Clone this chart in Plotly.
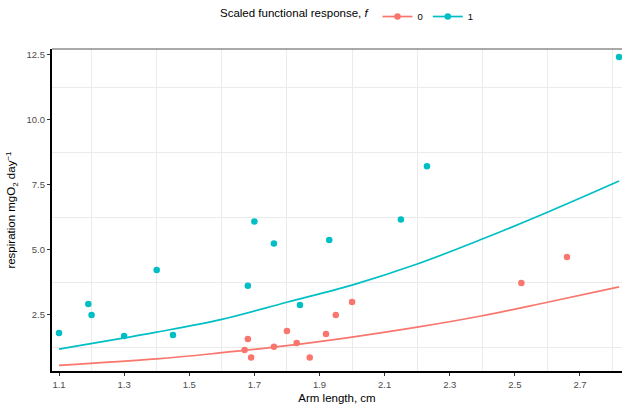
import plotly.graph_objects as go

# ---- data ----
f0_arm = [1.67, 1.68, 1.69, 1.76, 1.80, 1.83, 1.87, 1.92, 1.95, 2.00, 2.52, 2.66]
f0_resp = [1.15, 1.58, 0.87, 1.28, 1.88, 1.42, 0.87, 1.77, 2.50, 3.00, 3.73, 4.73]

f1_arm = [1.10, 1.19, 1.20, 1.30, 1.40, 1.45, 1.68, 1.70, 1.76, 1.84, 1.93, 2.15, 2.23, 2.82]
f1_resp = [1.81, 2.92, 2.50, 1.69, 4.23, 1.73, 3.62, 6.10, 5.25, 2.88, 5.38, 6.17, 8.22, 12.42]

fit_arm = [1.10, 1.40, 1.60, 1.80, 2.00, 2.20, 2.40, 2.60, 2.82]
fit0 = [0.565, 0.81, 1.05, 1.32, 1.65, 2.03, 2.47, 2.99, 3.58]
fit1 = [1.19, 1.84, 2.33, 2.99, 3.65, 4.46, 5.42, 6.45, 7.65]

x_ticks = [1.1, 1.3, 1.5, 1.7, 1.9, 2.1, 2.3, 2.5, 2.7]
x_minor = [1.2, 1.4, 1.6, 1.8, 2.0, 2.2, 2.4, 2.6, 2.8]
y_ticks = [2.5, 5.0, 7.5, 10.0, 12.5]
y_minor = [1.25, 3.75, 6.25, 8.75, 11.25]

groups = ["0", "1"]
colors = {"0": "#F8766D", "1": "#00BFC4"}

fig = go.Figure()
for g, xs, ys, fy in [("0", f0_arm, f0_resp, fit0), ("1", f1_arm, f1_resp, fit1)]:
    fig.add_trace(go.Scatter(
        x=fit_arm, y=fy, mode="lines", line=dict(color=colors[g], width=1.7, shape="spline"),
        showlegend=False, hoverinfo="skip"))
    fig.add_trace(go.Scatter(
        x=xs, y=ys, mode="markers", name=g,
        marker=dict(color=colors[g], size=6.5),
        showlegend=False))

# legend entries with line+marker symbol
for g in groups:
    fig.add_trace(go.Scatter(
        x=[None], y=[None], mode="lines+markers", name=g,
        line=dict(color=colors[g], width=1.7),
        marker=dict(color=colors[g], size=6.5), showlegend=True))

font_family = "Liberation Sans, Arial, sans-serif"

fig.update_layout(
    width=622, height=404,
    margin=dict(l=52, r=0, t=49, b=33),
    paper_bgcolor="white", plot_bgcolor="white",
    font=dict(family=font_family, color="black"),
    legend=dict(
        orientation="h", x=(218 - 52) / 570, xanchor="left", y=0.995, yanchor="top",
        yref="container",
        title=dict(text="Scaled functional response, <i>f</i>", font=dict(size=11.5), side="left"),
        font=dict(size=9.5), itemwidth=30, bgcolor="rgba(0,0,0,0)",
    ),
    xaxis=dict(
        range=[1.0785, 2.829], tickvals=x_ticks, ticktext=[f"{v:.1f}" for v in x_ticks],
        showgrid=False, zeroline=False,
        showline=True, linecolor="black", linewidth=2.2,
        ticks="outside", ticklen=3, tickcolor="#333333", tickwidth=1,
        tickfont=dict(size=9.5, color="#4d4d4d"),
        minor=dict(tickvals=x_minor, showgrid=True, gridcolor="#ebebeb", gridwidth=1, ticks=""),
        title=dict(text="Arm length, cm", font=dict(size=11.5), standoff=6),
    ),
    yaxis=dict(
        range=[0.346, 12.73], tickvals=y_ticks, ticktext=[f"{v:.1f}" for v in y_ticks],
        showgrid=False, zeroline=False,
        showline=True, linecolor="black", linewidth=2.2,
        ticks="outside", ticklen=3, tickcolor="#333333", tickwidth=1,
        tickfont=dict(size=9.5, color="#4d4d4d"),
        minor=dict(tickvals=y_minor, showgrid=True, gridcolor="#ebebeb", gridwidth=1, ticks=""),
        title=dict(text="respiration mgO<sub>2</sub> day<sup>−1</sup>", font=dict(size=11.5), standoff=8),
    ),
    shapes=[dict(type="line", xref="paper", yref="paper", x0=0, x1=1, y0=1, y1=1,
                 line=dict(color="#555555", width=1))],
)

fig.write_html("out.html", config={"displayModeBar": False},
               post_script="document.body.style.margin='0';document.body.style.overflow='hidden';")
